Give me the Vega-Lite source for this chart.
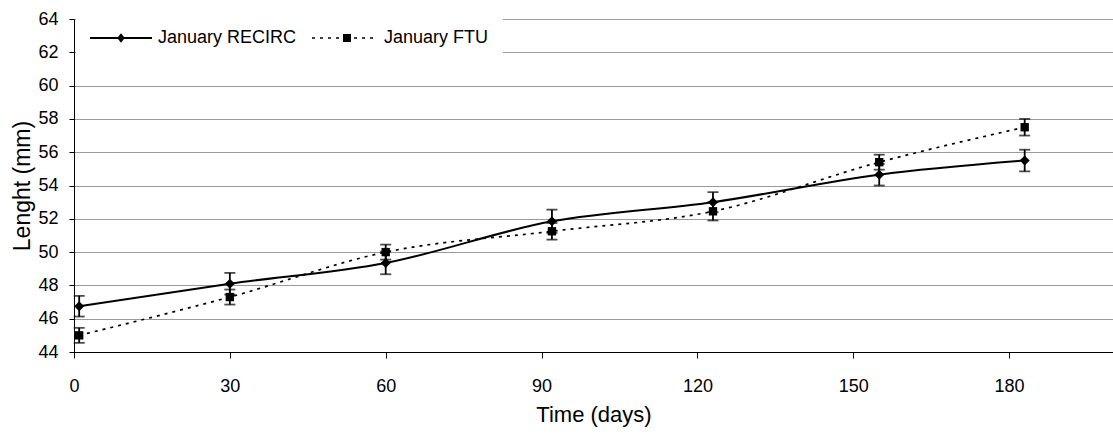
{
  "$schema": "https://vega.github.io/schema/vega-lite/v6.json",
  "width": 1039,
  "height": 333,
  "autosize": {"type": "none"},
  "padding": {"left": 74, "top": 19, "right": 0, "bottom": 87},
  "background": "white",
  "config": {
    "view": {"stroke": null},
    "font": "Liberation Sans",
    "axis": {"labelColor": "black", "titleColor": "black", "domainColor": "black", "tickColor": "black", "titleFontWeight": "normal", "labelFont": "Liberation Sans", "titleFont": "Liberation Sans"}
  },
  "data": {
    "values": [
      {"series": "January RECIRC", "day": 1, "mean": 46.75, "lo": 46.13, "hi": 47.37},
      {"series": "January RECIRC", "day": 30, "mean": 48.1, "lo": 47.45, "hi": 48.75},
      {"series": "January RECIRC", "day": 60, "mean": 49.35, "lo": 48.67, "hi": 50.03},
      {"series": "January RECIRC", "day": 92, "mean": 51.85, "lo": 51.15, "hi": 52.55},
      {"series": "January RECIRC", "day": 123, "mean": 53.0, "lo": 52.4, "hi": 53.6},
      {"series": "January RECIRC", "day": 155, "mean": 54.65, "lo": 54.0, "hi": 55.3},
      {"series": "January RECIRC", "day": 183, "mean": 55.5, "lo": 54.85, "hi": 56.15},
      {"series": "January FTU", "day": 1, "mean": 45.0, "lo": 44.55, "hi": 45.45},
      {"series": "January FTU", "day": 30, "mean": 47.3, "lo": 46.85, "hi": 47.75},
      {"series": "January FTU", "day": 60, "mean": 50.0, "lo": 49.55, "hi": 50.45},
      {"series": "January FTU", "day": 92, "mean": 51.25, "lo": 50.75, "hi": 51.75},
      {"series": "January FTU", "day": 123, "mean": 52.45, "lo": 51.9, "hi": 53.0},
      {"series": "January FTU", "day": 155, "mean": 55.4, "lo": 54.95, "hi": 55.85},
      {"series": "January FTU", "day": 183, "mean": 57.5, "lo": 57.0, "hi": 58.0}
    ]
  },
  "encoding": {
    "x": {
      "field": "day",
      "type": "quantitative",
      "scale": {"domain": [0, 200], "nice": false, "zero": false},
      "axis": {
        "values": [0, 30, 60, 90, 120, 150, 180],
        "grid": false,
        "title": "Time (days)",
        "titleFontSize": 22,
        "titlePadding": 9,
        "labelFontSize": 18,
        "labelPadding": 19,
        "tickSize": 6,
        "labelFlush": false
      }
    },
    "y": {
      "field": "mean",
      "type": "quantitative",
      "scale": {"domain": [44, 64], "nice": false, "zero": false},
      "axis": {
        "values": [44, 46, 48, 50, 52, 54, 56, 58, 60, 62, 64],
        "grid": true,
        "gridColor": "#9a9a9a",
        "gridWidth": 1,
        "title": "Lenght (mm)",
        "titleFontSize": 23,
        "titlePadding": 3,
        "labelFontSize": 18,
        "labelPadding": 11,
        "labelOverlap": false,
        "tickSize": 5,
        "labelFlush": false
      }
    }
  },
  "layer": [
    {
      "mark": {"type": "errorbar", "ticks": {"size": 11, "thickness": 1.8, "color": "black"}, "rule": {"strokeWidth": 1.8, "color": "black"}},
      "encoding": {
        "y": {
          "field": "lo",
          "type": "quantitative",
          "scale": {"domain": [44, 64], "nice": false, "zero": false},
          "axis": {
            "values": [44, 46, 48, 50, 52, 54, 56, 58, 60, 62, 64],
            "grid": true,
            "gridColor": "#9a9a9a",
            "gridWidth": 1,
            "title": "Lenght (mm)",
            "titleFontSize": 23,
            "titlePadding": 3,
            "labelFontSize": 18,
            "labelPadding": 11,
            "labelOverlap": false,
            "tickSize": 5,
            "labelFlush": false
          }
        },
        "y2": {"field": "hi"}
      }
    },
    {
      "transform": [{"filter": "datum.series === 'January RECIRC'"}],
      "mark": {"type": "line", "interpolate": "monotone", "color": "black", "strokeWidth": 2},
      "encoding": {}
    },
    {
      "transform": [{"filter": "datum.series === 'January FTU'"}],
      "mark": {"type": "line", "interpolate": "monotone", "color": "black", "strokeWidth": 1.7, "strokeDash": [3, 5]},
      "encoding": {}
    },
    {
      "transform": [{"filter": "datum.series === 'January RECIRC'"}],
      "mark": {"type": "point", "shape": "diamond", "filled": true, "color": "black", "opacity": 1, "size": 100},
      "encoding": {}
    },
    {
      "transform": [{"filter": "datum.series === 'January FTU'"}],
      "mark": {"type": "point", "shape": "square", "filled": true, "color": "black", "opacity": 1, "size": 70},
      "encoding": {}
    },
    {
      "transform": [{"filter": "false"}],
      "mark": {"type": "point", "filled": true, "fill": "black", "opacity": 1},
      "encoding": {
        "shape": {
          "field": "series",
          "type": "nominal",
          "scale": {
            "domain": ["January RECIRC", "January FTU"],
            "range": [
              "M-1.8,-0.2H10.6V0.2H-1.8ZM4.4,-0.95L5.15,0L4.4,0.95L3.65,0Z",
              "M-2.6,-0.15H-2V0.15H-2.6ZM-1,-0.15H-0.4V0.15H-1ZM0.6,-0.15H1.2V0.15H0.6ZM2.2,-0.15H2.8V0.15H2.2ZM5.8,-0.15H6.4V0.15H5.8ZM7.4,-0.15H8V0.15H7.4ZM9,-0.15H9.6V0.15H9ZM3.6,-0.8H5.2V0.8H3.6Z"
            ]
          },
          "legend": {
            "orient": "none",
            "legendX": 2,
            "legendY": -4,
            "direction": "horizontal",
            "title": null,
            "labelFontSize": 18,
            "labelColor": "black",
            "labelFont": "Liberation Sans",
            "labelOffset": 50,
            "columnPadding": 12,
            "symbolSize": 100,
            "symbolFillColor": "black",
            "fillColor": "white",
            "padding": 14,
            "encode": {
              "symbols": {
                "update": {
                  "fill": {"value": "black"},
                  "fillOpacity": {"value": 1},
                  "opacity": {"value": 1}
                }
              }
            }
          }
        }
      }
    }
  ]
}
